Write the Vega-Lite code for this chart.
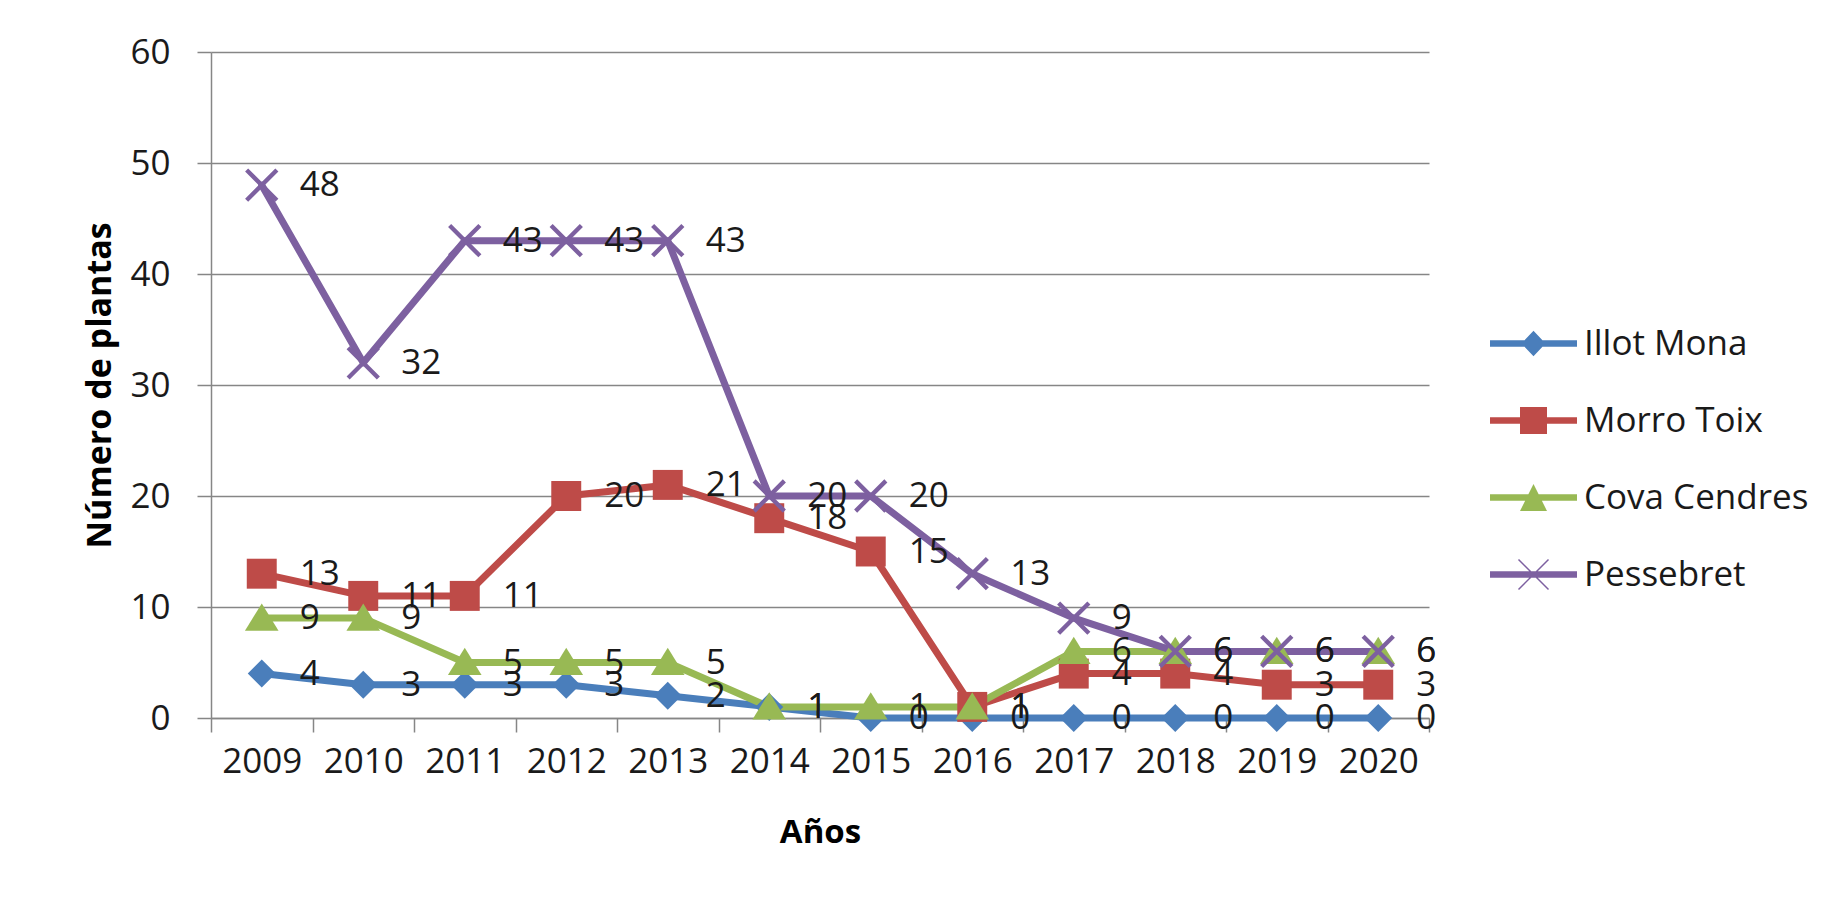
{
  "$schema": "https://vega.github.io/schema/vega-lite/v6.json",
  "width": 1218,
  "height": 666,
  "autosize": {"type": "none"},
  "padding": {"left": 211, "top": 52, "right": 402, "bottom": 191},
  "background": "white",
  "config": {
    "font": "Open Sans",
    "view": {"stroke": null}
  },
  "data": {
    "values": [
      {"year": "2009", "series": "Illot Mona", "value": 4},
      {"year": "2010", "series": "Illot Mona", "value": 3},
      {"year": "2011", "series": "Illot Mona", "value": 3},
      {"year": "2012", "series": "Illot Mona", "value": 3},
      {"year": "2013", "series": "Illot Mona", "value": 2},
      {"year": "2014", "series": "Illot Mona", "value": 1},
      {"year": "2015", "series": "Illot Mona", "value": 0},
      {"year": "2016", "series": "Illot Mona", "value": 0},
      {"year": "2017", "series": "Illot Mona", "value": 0},
      {"year": "2018", "series": "Illot Mona", "value": 0},
      {"year": "2019", "series": "Illot Mona", "value": 0},
      {"year": "2020", "series": "Illot Mona", "value": 0},
      {"year": "2009", "series": "Morro Toix", "value": 13},
      {"year": "2010", "series": "Morro Toix", "value": 11},
      {"year": "2011", "series": "Morro Toix", "value": 11},
      {"year": "2012", "series": "Morro Toix", "value": 20},
      {"year": "2013", "series": "Morro Toix", "value": 21},
      {"year": "2014", "series": "Morro Toix", "value": 18},
      {"year": "2015", "series": "Morro Toix", "value": 15},
      {"year": "2016", "series": "Morro Toix", "value": 1},
      {"year": "2017", "series": "Morro Toix", "value": 4},
      {"year": "2018", "series": "Morro Toix", "value": 4},
      {"year": "2019", "series": "Morro Toix", "value": 3},
      {"year": "2020", "series": "Morro Toix", "value": 3},
      {"year": "2009", "series": "Cova Cendres", "value": 9},
      {"year": "2010", "series": "Cova Cendres", "value": 9},
      {"year": "2011", "series": "Cova Cendres", "value": 5},
      {"year": "2012", "series": "Cova Cendres", "value": 5},
      {"year": "2013", "series": "Cova Cendres", "value": 5},
      {"year": "2014", "series": "Cova Cendres", "value": 1},
      {"year": "2015", "series": "Cova Cendres", "value": 1},
      {"year": "2016", "series": "Cova Cendres", "value": 1},
      {"year": "2017", "series": "Cova Cendres", "value": 6},
      {"year": "2018", "series": "Cova Cendres", "value": 6},
      {"year": "2019", "series": "Cova Cendres", "value": 6},
      {"year": "2020", "series": "Cova Cendres", "value": 6},
      {"year": "2009", "series": "Pessebret", "value": 48},
      {"year": "2010", "series": "Pessebret", "value": 32},
      {"year": "2011", "series": "Pessebret", "value": 43},
      {"year": "2012", "series": "Pessebret", "value": 43},
      {"year": "2013", "series": "Pessebret", "value": 43},
      {"year": "2014", "series": "Pessebret", "value": 20},
      {"year": "2015", "series": "Pessebret", "value": 20},
      {"year": "2016", "series": "Pessebret", "value": 13},
      {"year": "2017", "series": "Pessebret", "value": 9},
      {"year": "2018", "series": "Pessebret", "value": 6},
      {"year": "2019", "series": "Pessebret", "value": 6},
      {"year": "2020", "series": "Pessebret", "value": 6}
    ]
  },
  "encoding": {
    "x": {
      "field": "year",
      "type": "ordinal",
      "scale": {"type": "band", "paddingInner": 0, "paddingOuter": 0},
      "axis": {
        "title": "Años",
        "titleFontSize": 33,
        "titleFontWeight": "bold",
        "titleColor": "#000000",
        "titlePadding": 37,
        "labelAngle": 0,
        "labelFontSize": 35,
        "labelColor": "#1a1a1a",
        "labelPadding": 12,
        "tickBand": "extent",
        "tickSize": 14,
        "tickColor": "#868686",
        "tickWidth": 1.5,
        "domainColor": "#868686",
        "domainWidth": 1.5,
        "grid": false
      }
    },
    "y": {
      "field": "value",
      "type": "quantitative",
      "scale": {"domain": [0, 60], "nice": false},
      "axis": {
        "title": "Número de plantas",
        "titleFontSize": 34,
        "titleFontWeight": "bold",
        "titleColor": "#000000",
        "titlePadding": 12,
        "values": [0, 10, 20, 30, 40, 50, 60],
        "labelFontSize": 35,
        "labelColor": "#1a1a1a",
        "labelPadding": 27,
        "tickSize": 14,
        "tickColor": "#868686",
        "tickWidth": 1.5,
        "domainColor": "#868686",
        "domainWidth": 1.5,
        "grid": true,
        "gridColor": "#868686",
        "gridWidth": 1.5
      }
    },
    "color": {
      "field": "series",
      "type": "nominal",
      "sort": ["Illot Mona", "Morro Toix", "Cova Cendres", "Pessebret"],
      "scale": {
        "domain": ["Illot Mona", "Morro Toix", "Cova Cendres", "Pessebret"],
        "range": ["#4a7ebb", "#be4b48", "#98b954", "#7d60a0"]
      },
      "legend": {
        "title": null,
        "orient": "none",
        "legendX": 1305,
        "legendY": 274,
        "padding": 0,
        "labelFontSize": 35,
        "labelColor": "#1a1a1a",
        "labelLimit": 0,
        "labelOffset": 33,
        "rowPadding": 41,
        "symbolSize": 900,
        "symbolStrokeWidth": 0
      }
    }
  },
  "layer": [
    {
      "mark": {"type": "line", "strokeWidth": 7, "strokeCap": "round", "strokeJoin": "round"},
      "encoding": {"detail": {"field": "series"}}
    },
    {
      "mark": {"type": "point", "filled": true, "opacity": 1, "size": 784, "strokeWidth": 0},
      "encoding": {
        "shape": {
          "condition": [
            {"test": "datum.series === 'Illot Mona'", "value": "M0,-1L1,0L0,1L-1,0Z"},
            {"test": "datum.series === 'Morro Toix'", "value": "M-1.07,-1.07L1.07,-1.07L1.07,1.07L-1.07,1.07Z"},
            {"test": "datum.series === 'Cova Cendres'", "value": "M0,-1.05L1.2,0.9L-1.2,0.9Z"}
          ],
          "value": "M-0.97,-1.19L1.19,0.97L0.97,1.19L-1.19,-0.97ZM-0.97,1.19L-1.19,0.97L0.97,-1.19L1.19,-0.97Z"
        }
      }
    },
    {
      "transform": [{"filter": "false"}],
      "mark": {"type": "point", "filled": true, "opacity": 1, "strokeWidth": 0},
      "encoding": {
        "shape": {
          "field": "series",
          "type": "nominal",
          "scale": {
            "domain": ["Illot Mona", "Morro Toix", "Cova Cendres", "Pessebret"],
            "range": [
              "M-2.9,-0.22L2.9,-0.22L2.9,0.22L-2.9,0.22ZM0,-0.85L0.8,0L0,0.85L-0.8,0Z",
              "M-2.9,-0.22L2.9,-0.22L2.9,0.22L-2.9,0.22ZM-0.9,-0.9L0.9,-0.9L0.9,0.9L-0.9,0.9Z",
              "M-2.9,-0.22L2.9,-0.22L2.9,0.22L-2.9,0.22ZM0,-0.9L0.9,0.9L-0.9,0.9Z",
              "M-2.9,-0.22L2.9,-0.22L2.9,0.22L-2.9,0.22ZM-0.965,-1.035L1.035,0.965L0.965,1.035L-1.035,-0.965ZM-0.965,1.035L-1.035,0.965L0.965,-1.035L1.035,-0.965Z"
            ]
          },
          "legend": {
            "title": null,
            "orient": "none",
            "legendX": 1305,
            "legendY": 274,
            "padding": 0,
            "labelFontSize": 35,
            "labelColor": "#1a1a1a",
            "labelLimit": 0,
            "labelOffset": 33,
            "rowPadding": 41,
            "symbolSize": 900,
            "symbolStrokeWidth": 0
          }
        }
      }
    },
    {
      "mark": {"type": "text", "align": "left", "baseline": "middle", "dx": 38, "fontSize": 35, "color": "#1a1a1a"},
      "encoding": {
        "text": {"field": "value", "type": "quantitative"},
        "color": {"value": "#1a1a1a"}
      }
    }
  ]
}
